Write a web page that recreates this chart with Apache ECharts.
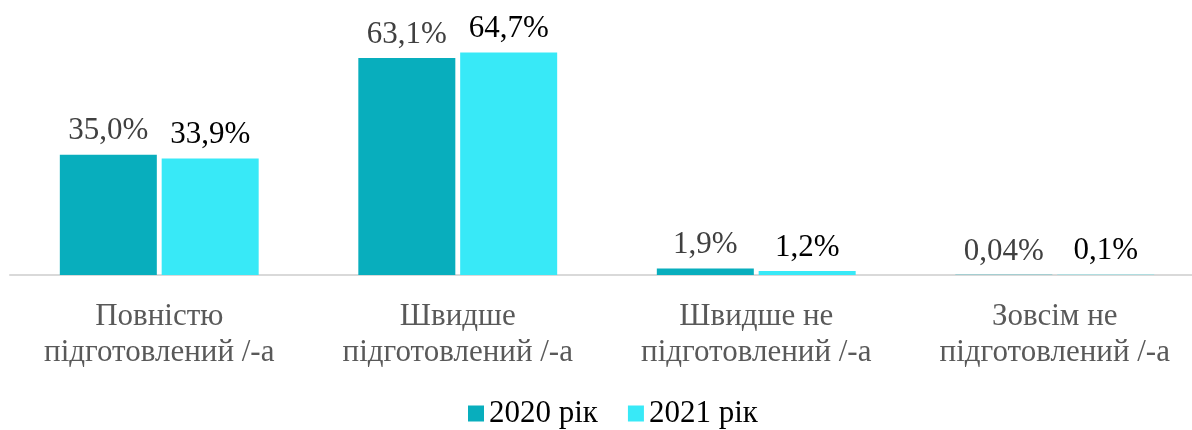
<!DOCTYPE html>
<html>
<head>
<meta charset="utf-8">
<script src="https://cdn.jsdelivr.net/npm/echarts@6/dist/echarts.min.js"></script>
<style>
  html, body { margin: 0; padding: 0; background: #fff; }
  #chart { width: 1192px; height: 430px; }
</style>
</head>
<body>
<div id="chart"></div>
<script>
var categories = [
  'Повністю\nпідготовлений /-а',
  'Швидше\nпідготовлений /-а',
  'Швидше не\nпідготовлений /-а',
  'Зовсім не\nпідготовлений /-а'
]
var seriesNames = ['2020 рік', '2021 рік']
var values2020 = [35.0, 63.1, 1.9, 0.04]
var values2021 = [33.9, 64.7, 1.2, 0.1]

var serif = '"Liberation Serif", "DejaVu Serif", serif'

// подписи с запятой вместо точки
function fmt(p) {
  var v = p.value
  var s = v < 0.1 ? v.toFixed(2) : v.toFixed(1)
  return s.replace('.', ',') + '%'
}

var chart = echarts.init(document.getElementById('chart'))
var option = {
  animation: false,
  grid: {
    left: 10,
    top: 0,
    width: 1194,
    height: 275,
    outerBoundsMode: 'none'
  },
  legend: {
    data: seriesNames,
    left: 463,
    top: 393,
    itemWidth: 16,
    itemHeight: 16,
    itemGap: 30,
    icon: 'rect',
    textStyle: { fontFamily: serif, fontSize: 31, color: '#000' }
  },
  xAxis: {
    type: 'category',
    data: categories,
    axisLine: { lineStyle: { color: '#d9d9d9', width: 2 } },
    axisTick: { show: false },
    axisLabel: {
      interval: 0,
      margin: 24,
      fontFamily: serif,
      fontSize: 31,
      lineHeight: 36,
      color: '#595959'
    }
  },
  yAxis: {
    type: 'value',
    min: 0,
    max: 80,
    show: false,
    splitLine: { show: false }
  },
  series: [
    {
      name: seriesNames[0],
      type: 'bar',
      data: values2020,
      barWidth: 97,
      barGap: '5%',
      itemStyle: { color: '#08AEBD' },
      label: {
        show: true,
        position: 'top',
        distance: 8,
        formatter: fmt,
        fontFamily: serif,
        fontSize: 31,
        color: '#404040'
      }
    },
    {
      name: seriesNames[1],
      type: 'bar',
      data: values2021,
      barWidth: 97,
      barGap: '5%',
      itemStyle: { color: '#38E9F7' },
      label: {
        show: true,
        position: 'top',
        distance: 8,
        formatter: fmt,
        fontFamily: serif,
        fontSize: 31,
        color: '#000'
      }
    }
  ]
}
chart.setOption(option)
</script>
</body>
</html>
